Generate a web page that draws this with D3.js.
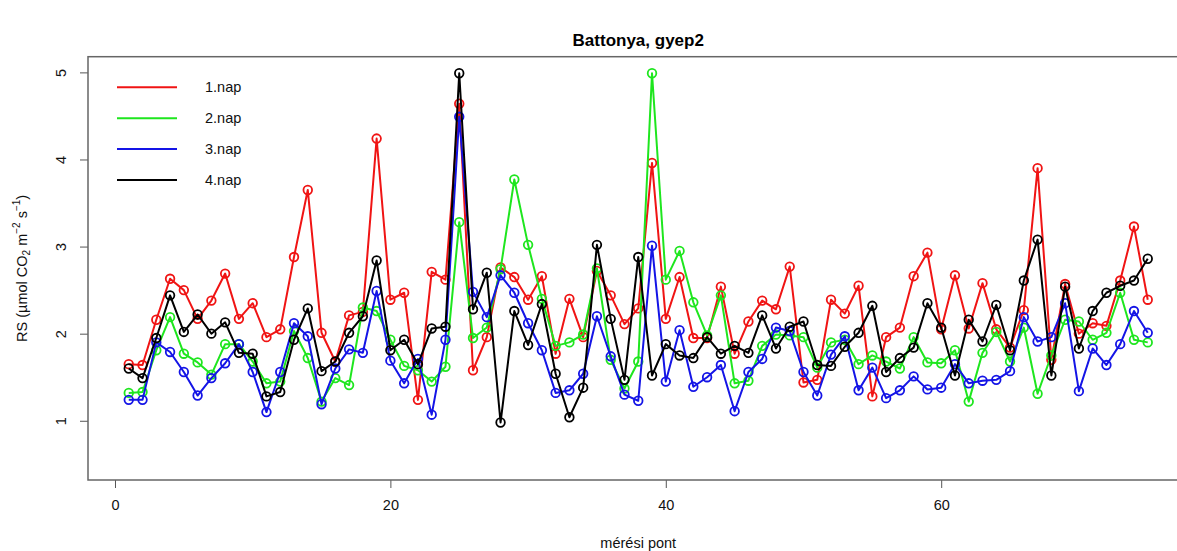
<!DOCTYPE html>
<html>
<head>
<meta charset="utf-8">
<script src="https://cdn.jsdelivr.net/npm/d3@7"></script>
<style>
  html, body { margin: 0; padding: 0; background: #fff; }
  svg { display: block; font-family: "Liberation Sans", Arial, sans-serif; }
</style>
</head>
<body>
<script>
// Soil respiration (RS) at each measurement point, one series per day
const points = d3.range(1, 76);
const day1 = [1.65,1.64,2.16,2.63,2.50,2.17,2.38,2.69,2.17,2.35,1.96,2.05,2.88,3.65,2.01,1.68,2.21,2.25,4.24,2.39,
              2.47,1.24,2.71,2.62,4.64,1.58,1.96,2.76,2.65,2.39,2.66,1.77,2.40,1.96,2.72,2.44,2.11,2.29,3.96,2.17,
              2.65,1.95,1.95,2.54,1.77,2.14,2.38,2.28,2.77,1.44,1.47,2.39,2.23,2.55,1.28,1.96,2.07,2.66,2.93,2.05,
              2.67,2.06,2.58,2.05,1.84,2.27,3.90,1.70,2.57,2.00,2.12,2.09,2.61,3.23,2.39];
const day2 = [1.32,1.33,1.81,2.19,1.77,1.67,1.53,1.88,1.88,1.68,1.43,1.45,2.03,1.72,1.22,1.49,1.41,2.30,2.26,1.93,
              1.63,1.58,1.45,1.62,3.28,1.95,2.07,2.74,3.77,3.02,2.40,1.86,1.90,1.99,2.75,1.70,1.37,1.68,4.99,2.62,
              2.95,2.36,1.98,2.44,1.43,1.46,1.86,1.99,1.98,1.96,1.61,1.90,1.93,1.65,1.75,1.68,1.60,1.96,1.67,1.66,
              1.81,1.22,1.78,2.02,1.68,2.07,1.31,1.75,2.16,2.14,1.93,2.01,2.47,1.93,1.90];
const day3 = [1.24,1.24,1.90,1.79,1.56,1.29,1.49,1.66,1.88,1.56,1.10,1.56,2.12,1.97,1.19,1.60,1.82,1.78,2.49,1.69,
              1.43,1.71,1.07,1.93,4.49,2.48,2.19,2.67,2.47,2.12,1.81,1.32,1.35,1.54,2.20,1.74,1.30,1.23,3.01,1.45,
              2.04,1.39,1.50,1.64,1.11,1.56,1.71,2.07,2.03,1.56,1.29,1.76,1.97,1.35,1.61,1.26,1.35,1.51,1.36,1.38,
              1.65,1.43,1.46,1.47,1.57,2.19,1.91,1.96,2.35,1.34,1.83,1.64,1.88,2.26,2.01];
const day4 = [1.60,1.49,1.95,2.44,2.02,2.22,2.00,2.13,1.78,1.77,1.28,1.33,1.93,2.29,1.57,1.68,2.01,2.20,2.84,1.81,
              1.93,1.65,2.06,2.08,4.99,2.28,2.70,0.98,2.26,1.87,2.34,1.54,1.04,1.38,3.02,2.17,1.47,2.88,1.52,1.88,
              1.75,1.72,1.96,1.77,1.86,1.78,2.21,1.83,2.08,2.14,1.64,1.63,1.85,2.01,2.32,1.56,1.72,1.84,2.35,2.07,
              1.52,2.16,1.91,2.33,1.81,2.61,3.08,1.52,2.54,1.83,2.26,2.47,2.55,2.61,2.86];

const seriesNames = ["1.nap", "2.nap", "3.nap", "4.nap"];
const seriesColors = ["#f01414", "#1ee61e", "#1414e6", "#000000"];
const xTicks = [0, 20, 40, 60];
const yTicks = [1, 2, 3, 4, 5];
const yLimits = [0.5, 5];

const width = 1177, height = 551;
const plot = { left: 88, right: 1188.5, top: 56.7, bottom: 480 };

const svg = d3.select("body").append("svg")
  .attr("width", width).attr("height", height);

// axis ranges padded by 4% on each side
const pad = ([a, b]) => [a - 0.04 * (b - a), b + 0.04 * (b - a)];
const x = d3.scaleLinear().domain(pad(d3.extent(points))).range([plot.left, plot.right]);
const y = d3.scaleLinear().domain(pad(yLimits)).range([plot.bottom, plot.top]);

// title
svg.append("text")
  .attr("x", (plot.left + plot.right) / 2).attr("y", 40)
  .attr("text-anchor", "middle").attr("dominant-baseline", "central")
  .style("font-weight", "bold").style("font-size", "17px")
  .text("Battonya, gyep2");

// x axis
const xAxis = svg.append("g")
  .attr("transform", `translate(0,${plot.bottom})`)
  .call(d3.axisBottom(x).tickValues(xTicks).tickSize(8).tickPadding(12).tickFormat(d3.format("d")));
xAxis.select(".domain").remove();
xAxis.selectAll("line").attr("stroke", "#555");
xAxis.selectAll("text").style("font-size", "14.5px").attr("fill", "#111")
  .style("font-family", "'Liberation Sans', Arial, sans-serif");

// y axis with rotated labels
const yAxis = svg.append("g")
  .attr("transform", `translate(${plot.left},0)`)
  .call(d3.axisLeft(y).tickValues(yTicks).tickSize(8).tickFormat(d3.format("d")));
yAxis.select(".domain").remove();
yAxis.selectAll("line").attr("stroke", "#555");
yAxis.selectAll("text").remove();
yAxis.selectAll(".tick").append("text")
  .attr("transform", "translate(-27,0) rotate(-90)")
  .attr("text-anchor", "middle").attr("dominant-baseline", "central")
  .attr("fill", "#111")
  .style("font-size", "14.5px")
  .style("font-family", "'Liberation Sans', Arial, sans-serif")
  .text(d => d);

// axis titles
svg.append("text")
  .attr("x", (plot.left + plot.right) / 2).attr("y", 543)
  .attr("text-anchor", "middle").attr("dominant-baseline", "central")
  .style("font-size", "14.5px").attr("fill", "#111")
  .text("mérési pont");

const ylab = svg.append("text")
  .attr("transform", `translate(22,${(plot.top + plot.bottom) / 2}) rotate(-90)`)
  .attr("text-anchor", "middle").attr("dominant-baseline", "central")
  .style("font-size", "14.5px").attr("fill", "#111");
ylab.append("tspan").text("RS (µmol CO");
ylab.append("tspan").attr("dy", 4).style("font-size", "10px").text("2");
ylab.append("tspan").attr("dy", -4).text(" m");
ylab.append("tspan").attr("dy", -6).style("font-size", "10px").text("−2");
ylab.append("tspan").attr("dy", 6).text(" s");
ylab.append("tspan").attr("dy", -6).style("font-size", "10px").text("−1");
ylab.append("tspan").attr("dy", 6).text(")");

// clip series to plot box
svg.append("clipPath").attr("id", "plotclip")
  .append("rect").attr("x", plot.left).attr("y", plot.top)
  .attr("width", plot.right - plot.left).attr("height", plot.bottom - plot.top);

const layer = svg.append("g").attr("clip-path", "url(#plotclip)");
const line = d3.line().x(d => x(d[0])).y(d => y(d[1]));

[day1, day2, day3, day4].forEach((vals, k) => {
  const data = points.map((p, i) => [p, vals[i]]);
  const g = layer.append("g");
  g.append("path").datum(data)
    .attr("d", line).attr("fill", "none")
    .attr("stroke", seriesColors[k]).attr("stroke-width", 2)
    .attr("stroke-linejoin", "round");
  g.selectAll("circle").data(data).join("circle")
    .attr("cx", d => x(d[0])).attr("cy", d => y(d[1])).attr("r", 4.3)
    .attr("fill", "none").attr("stroke", seriesColors[k]).attr("stroke-width", 1.8);
});

// plot box
svg.append("rect")
  .attr("x", plot.left).attr("y", plot.top)
  .attr("width", plot.right - plot.left).attr("height", plot.bottom - plot.top)
  .attr("fill", "none").attr("stroke", "#666").attr("stroke-width", 1.5);

// legend
const legend = svg.append("g");
const legendY = [87.3, 118.3, 149, 180];
seriesNames.forEach((name, k) => {
  legend.append("line")
    .attr("x1", 117).attr("x2", 177).attr("y1", legendY[k]).attr("y2", legendY[k])
    .attr("stroke", seriesColors[k]).attr("stroke-width", 2);
  legend.append("text")
    .attr("x", 205).attr("y", legendY[k])
    .attr("dominant-baseline", "central")
    .style("font-size", "14.5px").attr("fill", "#111")
    .text(name);
});
</script>
</body>
</html>
